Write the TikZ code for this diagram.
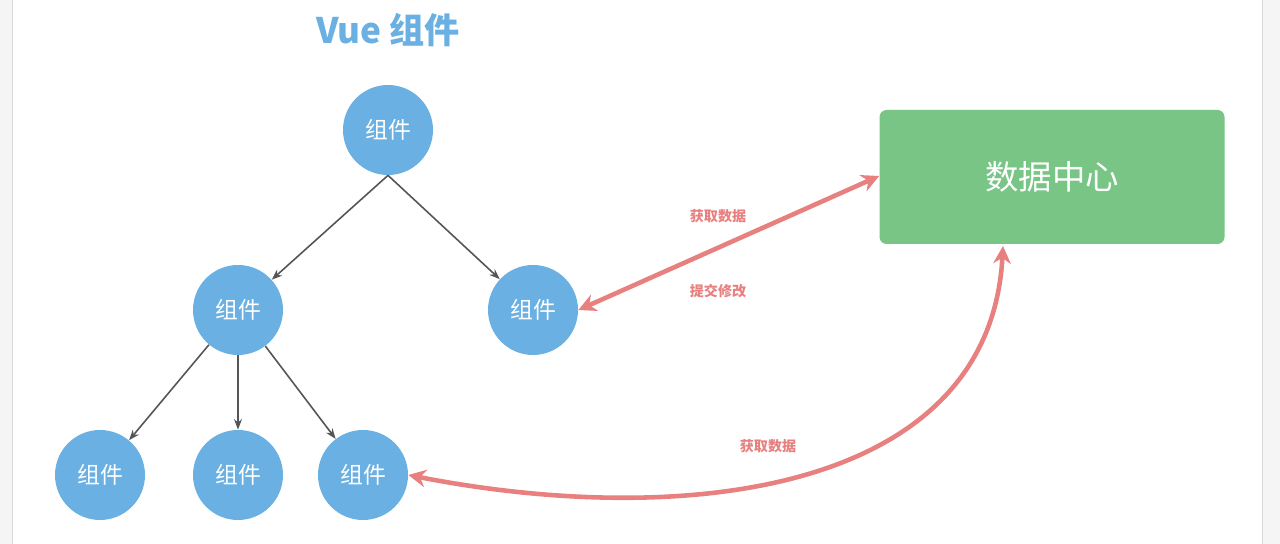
\documentclass[tikz,border=0pt]{standalone}
\usepackage{fontspec}
\setmainfont{Noto Sans CJK SC}
\usetikzlibrary{arrows.meta}
\definecolor{compblue}{RGB}{106, 176, 227}
\definecolor{storegreen}{RGB}{120, 197, 133}
\definecolor{linkred}{RGB}{232, 128, 128}
\definecolor{edgegray}{RGB}{85, 85, 85}
\tikzstyle{comp} = [circle, minimum size=1.8cm, fill=compblue,
                    text=white, font=\fontsize{13}{15}\selectfont, inner sep=0pt]
\tikzstyle{store} = [rectangle, rounded corners=4pt, minimum width=6.9cm,
                     minimum height=2.68cm, fill=storegreen, text=white,
                     font=\fontsize{19}{22}\selectfont]
\tikzstyle{tree} = [edgegray, line width=0.9pt, -{Stealth[length=6pt]}]
\tikzstyle{link} = [linkred, line width=2.6pt, {Stealth[length=10pt,width=10pt]}-{Stealth[length=10pt,width=10pt]}]
\tikzstyle{tag} = [text=linkred, font=\bfseries\fontsize{8}{10}\selectfont]
\begin{document}
\begin{tikzpicture}[x=0.2mm, y=-0.2mm]
        \useasboundingbox (0,0) rectangle (1280,544);
        \clip (0,0) rectangle (1280,544);
        \fill[gray!8] (0,0) rectangle (1280,544);
        \fill[white] (12,0) rectangle (1262,544);
        \draw[gray!30] (12,0) -- (12,544) (1262,0) -- (1262,544);

        \node (title) at (388,30) [text=compblue, font=\bfseries\fontsize{20}{24}\selectfont] {Vue 组件};

        %Components
        \node (root) at (388,130) [comp] {组件};
        \node (midL) at (238,310) [comp] {组件};
        \node (midR) at (533,310) [comp] {组件};
        \node (leafA) at (100,475) [comp] {组件};
        \node (leafB) at (238,475) [comp] {组件};
        \node (leafC) at (363,475) [comp] {组件};

        %Data store
        \node (store) at (1052,177) [store] {数据中心};

        %Tree edges
        \draw [tree] (root.south) -- (midL);
        \draw [tree] (root.south) -- (midR);
        \draw [tree] (midL) -- (leafA);
        \draw [tree] (midL) -- (leafB);
        \draw [tree] (midL) -- (leafC);

        %Links to store
        \draw [link] (midR.east) -- (store.west |- 0,176);
        \draw [link] (leafC.east) .. controls (690,530) and (990,490) .. (1003,246);

        \node (getA) at (718,216) [tag] {获取数据};
        \node (putA) at (718,291) [tag] {提交修改};
        \node (getB) at (768,446) [tag] {获取数据};
        \node (putB) at (768,551) [tag] {提交修改};
\end{tikzpicture}
\end{document}
